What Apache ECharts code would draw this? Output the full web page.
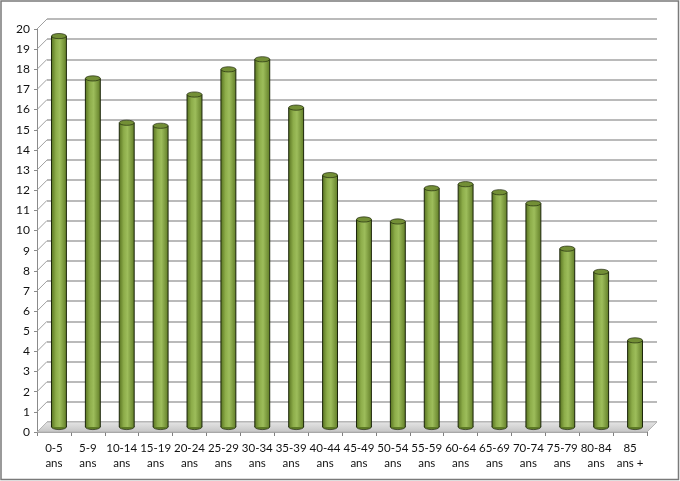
<!DOCTYPE html>
<html>
<head>
<meta charset="utf-8">
<script src="https://cdn.jsdelivr.net/npm/echarts@6/dist/echarts.min.js"></script>
<style>
html,body{margin:0;padding:0;background:#fff;}
#chart{width:680px;height:481px;}
</style>
</head>
<body>
<div id="chart"></div>
<script>
const categories = ['0-5\nans','5-9\nans','10-14\nans','15-19\nans','20-24\nans','25-29\nans','30-34\nans','35-39\nans','40-44\nans','45-49\nans','50-54\nans','55-59\nans','60-64\nans','65-69\nans','70-74\nans','75-79\nans','80-84\nans','85\nans +'];
const values = [19.4, 17.3, 15.1, 14.95, 16.5, 17.75, 18.25, 15.85, 12.5, 10.3, 10.2, 11.85, 12.05, 11.65, 11.1, 8.85, 7.7, 4.3];
const yMin = 0, yMax = 20, yStep = 1;
const yTicks = [0,1,2,3,4,5,6,7,8,9,10,11,12,13,14,15,16,17,18,19,20];

const DX = 10, DY = 10; // 3D depth offset
const FONT = 'Lato';

const chart = echarts.init(document.getElementById('chart'), null, {renderer:'canvas'});

const barGradient = {type:'linear', x:0, y:0, x2:1, y2:0, colorStops:[
  {offset:0, color:'#5a7522'},
  {offset:0.3, color:'#8dad4a'},
  {offset:0.55, color:'#9dbd5b'},
  {offset:1, color:'#637f29'}
]};

function renderBar(params, api) {
  const i = api.value(0), v = api.value(1);
  const top = api.coord([i, v]);
  const base = api.coord([i, 0]);
  const band = api.size([1, 0])[0];
  const w = band * 0.44;
  const cx = top[0] + DX / 2;
  const ty = top[1] - DY / 2;
  const by = base[1] - DY / 2;
  const rx = w / 2, ry = 2.6;
  const ell = (cy, fill) => ({
    type:'circle', x:cx, y:cy, scaleY: ry / rx,
    shape:{cx:0, cy:0, r:rx},
    style:{fill:fill, stroke:'#1c260b', lineWidth:1, strokeNoScale:true}
  });
  return {type:'group', children:[
    ell(by, '#5d7a25'),
    {type:'rect', shape:{x:cx - rx, y:ty, width:w, height:by - ty}, style:{fill:barGradient}},
    {type:'line', shape:{x1:cx - rx, y1:ty, x2:cx - rx, y2:by}, style:{stroke:'#1c260b', lineWidth:1}},
    {type:'line', shape:{x1:cx + rx, y1:ty, x2:cx + rx, y2:by}, style:{stroke:'#1c260b', lineWidth:1}},
    ell(ty, '#738f36')
  ]};
}

function renderFloor(params, api) {
  const band = api.size([1, 0])[0];
  const p0 = api.coord([0, 0]);
  const p1 = api.coord([categories.length - 1, 0]);
  const l = p0[0] - band / 2, r = p1[0] + band / 2, y = p0[1];
  return {type:'group', children:[
    {type:'polygon', shape:{points:[[l, y], [r, y], [r + DX, y - DY], [l + DX, y - DY]]},
     style:{fill:{type:'linear', x:0, y:0, x2:0, y2:1, colorStops:[{offset:0, color:'#e6e6e6'}, {offset:1, color:'#c4c4c4'}]}, stroke:'#b5b5b5', lineWidth:1}}
  ]};
}

function renderSide(params, api) {
  const band = api.size([1, 0])[0];
  const p = api.coord([0, api.value(1)]);
  const xl = p[0] - band / 2;
  return {type:'line', shape:{x1:xl, y1:p[1], x2:xl + DX, y2:p[1] - DY}, style:{stroke:'#a0a0a0', lineWidth:1}};
}

const option = {
  animation:false,
  backgroundColor:'#ffffff',
  graphic:[{type:'rect', shape:{x:1, y:1, width:677.5, height:478.5}, style:{fill:'none', stroke:'#7a7a7a', lineWidth:1.5}, z:100, silent:true}],
  grid:[
    {left:37, top:29, width:610, height:403},
    {left:37 + DX, top:29 - DY, width:610, height:403}
  ],
  xAxis:[
    {type:'category', gridIndex:0, data:categories, boundaryGap:true,
     axisLine:{show:true, lineStyle:{color:'#9a9a9a', width:1}},
     axisTick:{show:true, length:4, alignWithLabel:false, lineStyle:{color:'#808080'}},
     axisLabel:{interval:0, margin:9, fontFamily:FONT, fontSize:11.5, lineHeight:15, color:'#111'},
     splitLine:{show:false}},
    {type:'category', gridIndex:1, data:categories, show:false}
  ],
  yAxis:[
    {type:'value', gridIndex:0, min:yMin, max:yMax, interval:yStep,
     axisLine:{show:true, lineStyle:{color:'#8a8a8a', width:1}},
     axisTick:{show:true, length:3, inside:false, lineStyle:{color:'#8a8a8a'}},
     axisLabel:{margin:7, fontFamily:FONT, fontSize:12, color:'#111'},
     splitLine:{show:false}},
    {type:'value', gridIndex:1, min:yMin, max:yMax, interval:yStep,
     axisLine:{show:false}, axisTick:{show:false}, axisLabel:{show:false},
     splitLine:{show:true, lineStyle:{color:'#a3a3a3', width:1.5}}}
  ],
  series:[
    {type:'custom', xAxisIndex:0, yAxisIndex:0, renderItem:renderSide, data:yTicks.map(v => [0, v]), z:1, silent:true},
    {type:'custom', xAxisIndex:0, yAxisIndex:0, renderItem:renderFloor, data:[[0, 0]], z:2, silent:true},
    {type:'custom', xAxisIndex:0, yAxisIndex:0, renderItem:renderBar, data:values.map((v, i) => [i, v]), z:3}
  ]
};
chart.setOption(option);
</script>
</body>
</html>
